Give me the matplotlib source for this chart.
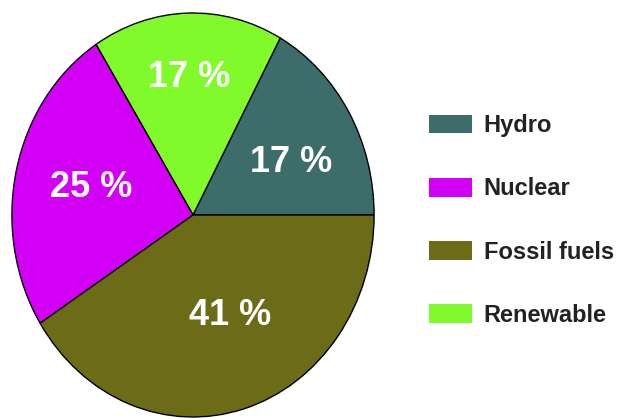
import numpy as np
import matplotlib.pyplot as plt
from matplotlib.patches import Patch

# slice order as drawn (counter-clockwise from 3 o'clock)
sources = ["Hydro", "Renewable", "Nuclear", "Fossil fuels"]
shares = [17, 17, 25, 41]
colors = ["#3d6d6b", "#80fa2a", "#d200f4", "#6b6b18"]
label_r = [0.6, 0.68, 0.58, 0.54]
label_da = [-5, 0, -1, 6]

# legend order
legend_order = ["Hydro", "Nuclear", "Fossil fuels", "Renewable"]

fig = plt.figure(figsize=(6.19, 4.18), dpi=100)
ax = fig.add_axes([11 / 619, 0.0, 364 / 619, 406 / 418])

wedges, texts, autotexts = ax.pie(
    shares, colors=colors, startangle=0, counterclock=True,
    autopct=lambda p: "%d %%" % round(p), pctdistance=0.6,
    wedgeprops=dict(edgecolor="black", linewidth=1.0),
    textprops=dict(color="white", fontsize=26, fontweight="bold",
                   family="Liberation Sans"),
)
# nudge percent labels a little, like the original
for w, t, r, da in zip(wedges, autotexts, label_r, label_da):
    a = np.deg2rad((w.theta1 + w.theta2) / 2 + da)
    t.set_position((r * np.cos(a), r * np.sin(a)))

ax.set_aspect("auto")
ax.set_xlim(-1.005, 1.005)
ax.set_ylim(-1.005, 1.005)

handles = [Patch(facecolor=colors[sources.index(s)], edgecolor="none") for s in legend_order]
fig.legend(handles, legend_order, loc="upper left", bbox_to_anchor=(408 / 619, 1 - 93 / 418),
           frameon=False, labelcolor="#222222",
           prop=dict(family="Liberation Sans", weight="bold", size=17),
           handlelength=1.8, handleheight=0.85, handletextpad=0.5, labelspacing=1.7)

fig.savefig("out.png", dpi=100)
